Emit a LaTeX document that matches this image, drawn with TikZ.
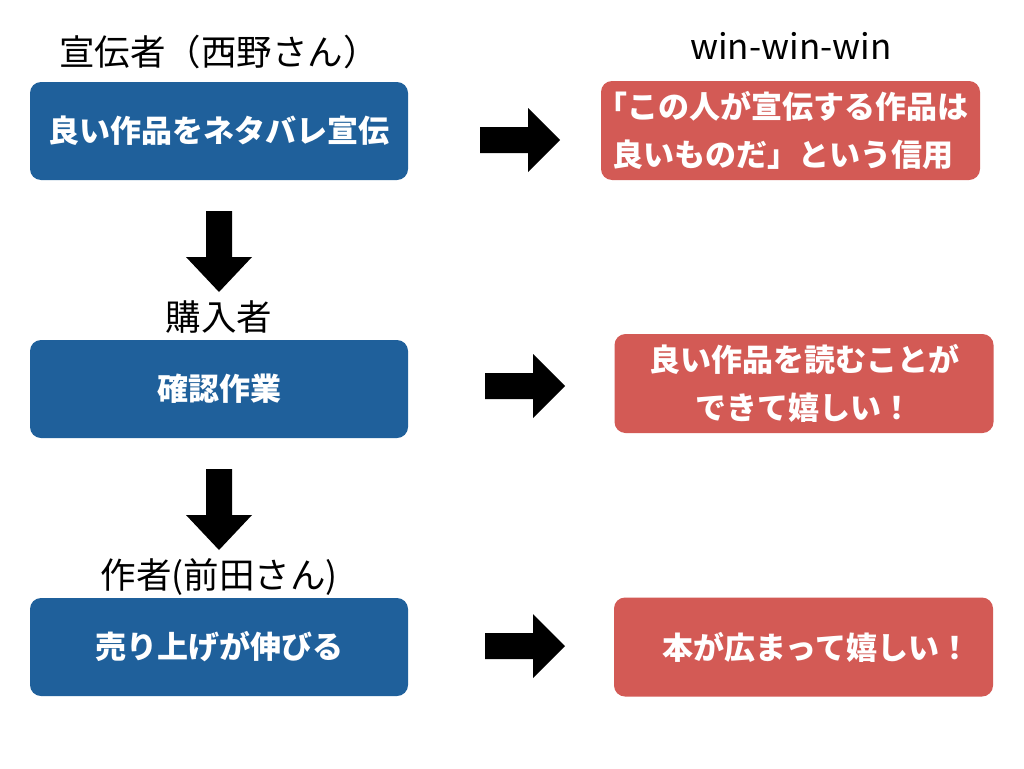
\documentclass[tikz,border=0pt]{standalone}
\usepackage{fontspec}
\setmainfont{Noto Sans CJK JP}
\definecolor{boxblue}{RGB}{31,96,155}
\definecolor{boxred}{RGB}{211,90,85}
\tikzset{
  bluebox/.style={fill=boxblue, rounded corners=11pt, minimum width=378pt, minimum height=98pt,
    text=white, align=center, inner sep=0pt, font=\fontsize{31}{48.5}\selectfont\bfseries},
  redbox/.style={fill=boxred, rounded corners=11pt, minimum width=379pt, minimum height=99pt,
    text=white, align=center, inner sep=0pt, font=\fontsize{31}{48.5}\selectfont\bfseries},
  toplabel/.style={inner sep=0pt, font=\fontsize{35.5}{35.5}\selectfont},
  rarr/.pic={\fill[black] (0,-13) -- (48,-13) -- (48,-32) -- (80,0) -- (48,32) -- (48,13) -- (0,13) -- cycle;},
  darr/.pic={\fill[black] (-13,0) -- (-13,46) -- (-33,46) -- (0,81) -- (33,46) -- (13,46) -- (13,0) -- cycle;}
}
\begin{document}
\begin{tikzpicture}[x=1pt,y=-1pt]
\useasboundingbox[fill=white] (0,0) rectangle (1024,768);

% labels
\node[toplabel] (l1) at (219,52) {宣伝者（西野さん）};
\node[toplabel, font=\fontsize{35}{35}\selectfont] (lw) at (791,46) {win-win-win};
\node[toplabel] (l2) at (219,317) {購入者};
\node[toplabel] (l3) at (219,577) {作者(前田さん)};

% blue boxes
\node[bluebox] (b1) at (219,131) {良い作品をネタバレ宣伝};
\node[bluebox] (b2) at (219,389) {確認作業};
\node[bluebox] (b3) at (219,647) {売り上げが伸びる};

% red boxes
\node[redbox] (r1) at (790.5,130.5) {\kern-16pt「この人が宣伝する作品は\\\kern-16pt良いものだ」という信用};
\node[redbox] (r2) at (804,383.5) {良い作品を読むことが\\できて嬉しい！};
\node[redbox] (r3) at (803.5,647) {\hspace{26pt}本が広まって嬉しい！};

% block arrows
\pic at (480,140) {rarr};
\pic at (485,386) {rarr};
\pic at (485,646) {rarr};
\pic at (219,211) {darr};
\pic at (219,469) {darr};
\end{tikzpicture}
\end{document}
